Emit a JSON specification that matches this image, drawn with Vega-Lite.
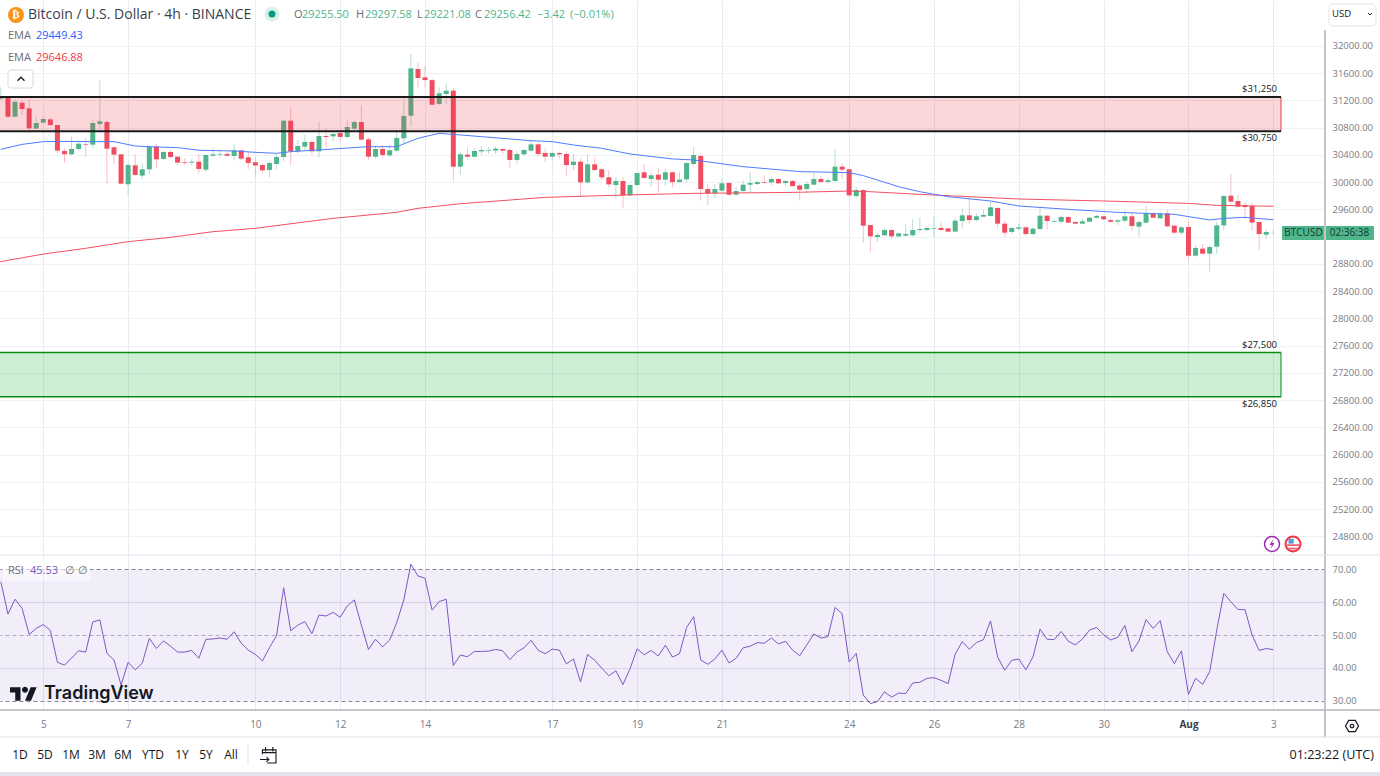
{"$schema":"https://vega.github.io/schema/vega-lite/v6.json","width":1325,"height":710,"padding":{"left":0,"top":0,"right":55,"bottom":66},"autosize":{"type":"none"},"background":"white","config":{"view":{"stroke":null},"font":"Open Sans","text":{"font":"Open Sans"}},
"datasets":{"candles":[
{"t":"2023-07-04T00:00Z","o":31227,"h":31393,"l":31207,"c":31266,"r":66.2},{"t":"2023-07-04T04:00Z","o":31256,"h":31256,"l":30938,"c":30962,"r":56.4},{"t":"2023-07-04T08:00Z","o":30962,"h":31207,"l":30953,"c":31183,"r":60.9},{"t":"2023-07-04T12:00Z","o":31168,"h":31207,"l":30987,"c":31075,"r":58.1},{"t":"2023-07-04T16:00Z","o":31085,"h":31217,"l":30718,"c":30791,"r":50.2},{"t":"2023-07-04T20:00Z","o":30786,"h":30962,"l":30777,"c":30870,"r":52},
{"t":"2023-07-05T00:00Z","o":30875,"h":30962,"l":30855,"c":30928,"r":53.2},{"t":"2023-07-05T04:00Z","o":30923,"h":30953,"l":30826,"c":30840,"r":51.4},{"t":"2023-07-05T08:00Z","o":30840,"h":30840,"l":30425,"c":30464,"r":41.7},{"t":"2023-07-05T12:00Z","o":30459,"h":30498,"l":30288,"c":30410,"r":40.8},{"t":"2023-07-05T16:00Z","o":30410,"h":30669,"l":30400,"c":30488,"r":43},{"t":"2023-07-05T20:00Z","o":30488,"h":30610,"l":30464,"c":30566,"r":45.2},
{"t":"2023-07-06T00:00Z","o":30561,"h":30645,"l":30375,"c":30552,"r":44.8},{"t":"2023-07-06T04:00Z","o":30552,"h":30914,"l":30498,"c":30870,"r":54},{"t":"2023-07-06T08:00Z","o":30855,"h":31500,"l":30777,"c":30894,"r":54.6},{"t":"2023-07-06T12:00Z","o":30884,"h":30923,"l":29984,"c":30493,"r":44.4},{"t":"2023-07-06T16:00Z","o":30513,"h":30522,"l":30268,"c":30405,"r":42.4},{"t":"2023-07-06T20:00Z","o":30410,"h":30415,"l":29969,"c":29979,"r":34.8},
{"t":"2023-07-07T00:00Z","o":29969,"h":30278,"l":29812,"c":30253,"r":41.7},{"t":"2023-07-07T04:00Z","o":30248,"h":30410,"l":30097,"c":30107,"r":39.4},{"t":"2023-07-07T08:00Z","o":30097,"h":30278,"l":30048,"c":30190,"r":41.4},{"t":"2023-07-07T12:00Z","o":30190,"h":30547,"l":30107,"c":30522,"r":49},{"t":"2023-07-07T16:00Z","o":30522,"h":30561,"l":30205,"c":30337,"r":45.9},{"t":"2023-07-07T20:00Z","o":30342,"h":30464,"l":30327,"c":30444,"r":48.2},
{"t":"2023-07-08T00:00Z","o":30444,"h":30474,"l":30351,"c":30371,"r":46.6},{"t":"2023-07-08T04:00Z","o":30375,"h":30385,"l":30253,"c":30288,"r":44.8},{"t":"2023-07-08T08:00Z","o":30293,"h":30351,"l":30253,"c":30283,"r":44.8},{"t":"2023-07-08T12:00Z","o":30288,"h":30337,"l":30253,"c":30302,"r":45.3},{"t":"2023-07-08T16:00Z","o":30302,"h":30415,"l":30131,"c":30195,"r":42.9},{"t":"2023-07-08T20:00Z","o":30185,"h":30410,"l":30151,"c":30400,"r":48.7},
{"t":"2023-07-09T00:00Z","o":30390,"h":30498,"l":30375,"c":30410,"r":48.8},{"t":"2023-07-09T04:00Z","o":30405,"h":30464,"l":30366,"c":30415,"r":49.1},{"t":"2023-07-09T08:00Z","o":30415,"h":30449,"l":30375,"c":30390,"r":48.7},{"t":"2023-07-09T12:00Z","o":30385,"h":30561,"l":30317,"c":30469,"r":51},{"t":"2023-07-09T16:00Z","o":30469,"h":30474,"l":30327,"c":30346,"r":47.5},{"t":"2023-07-09T20:00Z","o":30366,"h":30449,"l":30195,"c":30283,"r":45.4},
{"t":"2023-07-10T00:00Z","o":30293,"h":30366,"l":30072,"c":30244,"r":44.1},{"t":"2023-07-10T04:00Z","o":30253,"h":30278,"l":30131,"c":30175,"r":42.1},{"t":"2023-07-10T08:00Z","o":30180,"h":30302,"l":30072,"c":30283,"r":46.2},{"t":"2023-07-10T12:00Z","o":30268,"h":30425,"l":30195,"c":30371,"r":49.8},{"t":"2023-07-10T16:00Z","o":30371,"h":30914,"l":30302,"c":30904,"r":64.4},{"t":"2023-07-10T20:00Z","o":30904,"h":31099,"l":30253,"c":30454,"r":51.3},
{"t":"2023-07-11T00:00Z","o":30454,"h":30620,"l":30415,"c":30532,"r":53},{"t":"2023-07-11T04:00Z","o":30522,"h":30694,"l":30474,"c":30591,"r":54.1},{"t":"2023-07-11T08:00Z","o":30591,"h":30620,"l":30400,"c":30454,"r":50.4},{"t":"2023-07-11T12:00Z","o":30454,"h":30884,"l":30361,"c":30679,"r":56.1},{"t":"2023-07-11T16:00Z","o":30679,"h":30791,"l":30498,"c":30664,"r":55.8},{"t":"2023-07-11T20:00Z","o":30674,"h":30757,"l":30596,"c":30708,"r":56.9},
{"t":"2023-07-12T00:00Z","o":30723,"h":30777,"l":30596,"c":30664,"r":55.4},{"t":"2023-07-12T04:00Z","o":30664,"h":30904,"l":30645,"c":30811,"r":58.9},{"t":"2023-07-12T08:00Z","o":30786,"h":30904,"l":30767,"c":30884,"r":60.7},{"t":"2023-07-12T12:00Z","o":30884,"h":31134,"l":30620,"c":30625,"r":53},{"t":"2023-07-12T16:00Z","o":30630,"h":30659,"l":30327,"c":30375,"r":45.6},{"t":"2023-07-12T20:00Z","o":30375,"h":30547,"l":30351,"c":30488,"r":48.7},
{"t":"2023-07-13T00:00Z","o":30488,"h":30547,"l":30366,"c":30400,"r":46.4},{"t":"2023-07-13T04:00Z","o":30395,"h":30547,"l":30375,"c":30469,"r":48.5},{"t":"2023-07-13T08:00Z","o":30464,"h":30767,"l":30434,"c":30650,"r":53.8},{"t":"2023-07-13T12:00Z","o":30645,"h":31232,"l":30561,"c":30972,"r":60.7},{"t":"2023-07-13T16:00Z","o":30977,"h":31883,"l":30816,"c":31672,"r":71.6},{"t":"2023-07-13T20:00Z","o":31662,"h":31760,"l":31393,"c":31530,"r":68},
{"t":"2023-07-14T00:00Z","o":31540,"h":31706,"l":31393,"c":31500,"r":67.3},{"t":"2023-07-14T04:00Z","o":31500,"h":31525,"l":31134,"c":31138,"r":57.6},{"t":"2023-07-14T08:00Z","o":31148,"h":31393,"l":31138,"c":31305,"r":60.2},{"t":"2023-07-14T12:00Z","o":31295,"h":31451,"l":31148,"c":31344,"r":60.9},{"t":"2023-07-14T16:00Z","o":31344,"h":31378,"l":30023,"c":30229,"r":40.7},{"t":"2023-07-14T20:00Z","o":30229,"h":30449,"l":30107,"c":30410,"r":43.9},
{"t":"2023-07-15T00:00Z","o":30405,"h":30508,"l":30342,"c":30375,"r":43.4},{"t":"2023-07-15T04:00Z","o":30375,"h":30498,"l":30366,"c":30459,"r":45},{"t":"2023-07-15T08:00Z","o":30454,"h":30522,"l":30405,"c":30474,"r":45},{"t":"2023-07-15T12:00Z","o":30464,"h":30522,"l":30415,"c":30474,"r":45.1},{"t":"2023-07-15T16:00Z","o":30464,"h":30522,"l":30415,"c":30493,"r":45.6},{"t":"2023-07-15T20:00Z","o":30488,"h":30498,"l":30415,"c":30464,"r":45.2},
{"t":"2023-07-16T00:00Z","o":30474,"h":30498,"l":30219,"c":30327,"r":42.5},{"t":"2023-07-16T04:00Z","o":30327,"h":30459,"l":30278,"c":30415,"r":44.8},{"t":"2023-07-16T08:00Z","o":30410,"h":30488,"l":30395,"c":30474,"r":46.1},{"t":"2023-07-16T12:00Z","o":30464,"h":30610,"l":30449,"c":30556,"r":48.4},{"t":"2023-07-16T16:00Z","o":30556,"h":30586,"l":30375,"c":30415,"r":45.4},{"t":"2023-07-16T20:00Z","o":30429,"h":30498,"l":30293,"c":30375,"r":44.3},
{"t":"2023-07-17T00:00Z","o":30375,"h":30449,"l":30317,"c":30429,"r":45.7},{"t":"2023-07-17T04:00Z","o":30429,"h":30449,"l":30351,"c":30410,"r":45.4},{"t":"2023-07-17T08:00Z","o":30415,"h":30459,"l":30092,"c":30253,"r":41.2},{"t":"2023-07-17T12:00Z","o":30253,"h":30415,"l":30170,"c":30302,"r":42.7},{"t":"2023-07-17T16:00Z","o":30302,"h":30351,"l":29788,"c":29998,"r":35.7},{"t":"2023-07-17T20:00Z","o":29998,"h":30410,"l":29984,"c":30263,"r":44.1},
{"t":"2023-07-18T00:00Z","o":30263,"h":30366,"l":30170,"c":30180,"r":42.3},{"t":"2023-07-18T04:00Z","o":30190,"h":30219,"l":30033,"c":30072,"r":39.9},{"t":"2023-07-18T08:00Z","o":30072,"h":30180,"l":29925,"c":29969,"r":37.6},{"t":"2023-07-18T12:00Z","o":29959,"h":30072,"l":29763,"c":30018,"r":39.1},{"t":"2023-07-18T16:00Z","o":30018,"h":30072,"l":29621,"c":29807,"r":34.9},{"t":"2023-07-18T20:00Z","o":29807,"h":29969,"l":29798,"c":29959,"r":39.7},
{"t":"2023-07-19T00:00Z","o":29959,"h":30146,"l":29944,"c":30136,"r":45.8},{"t":"2023-07-19T04:00Z","o":30146,"h":30268,"l":30053,"c":30063,"r":44},{"t":"2023-07-19T08:00Z","o":30048,"h":30146,"l":29935,"c":30102,"r":45.3},{"t":"2023-07-19T12:00Z","o":30112,"h":30219,"l":29846,"c":30038,"r":43.6},{"t":"2023-07-19T16:00Z","o":30038,"h":30195,"l":29959,"c":30146,"r":46.9},{"t":"2023-07-19T20:00Z","o":30146,"h":30156,"l":29925,"c":30003,"r":43.3},
{"t":"2023-07-20T00:00Z","o":30003,"h":30146,"l":29993,"c":30038,"r":44.3},{"t":"2023-07-20T04:00Z","o":30043,"h":30288,"l":30003,"c":30283,"r":52.3},{"t":"2023-07-20T08:00Z","o":30268,"h":30522,"l":30239,"c":30400,"r":55.6},{"t":"2023-07-20T12:00Z","o":30385,"h":30425,"l":29729,"c":29900,"r":42.4},{"t":"2023-07-20T16:00Z","o":29900,"h":29969,"l":29666,"c":29837,"r":41.1},{"t":"2023-07-20T20:00Z","o":29837,"h":29969,"l":29763,"c":29900,"r":42.7},
{"t":"2023-07-21T00:00Z","o":29876,"h":30043,"l":29861,"c":29984,"r":45.4},{"t":"2023-07-21T04:00Z","o":29989,"h":29998,"l":29807,"c":29817,"r":41.5},{"t":"2023-07-21T08:00Z","o":29817,"h":29925,"l":29807,"c":29871,"r":42.9},{"t":"2023-07-21T12:00Z","o":29871,"h":30023,"l":29861,"c":29964,"r":46.1},{"t":"2023-07-21T16:00Z","o":29964,"h":30151,"l":29851,"c":29989,"r":46.6},{"t":"2023-07-21T20:00Z","o":29974,"h":30023,"l":29959,"c":30003,"r":47.7},
{"t":"2023-07-22T00:00Z","o":30003,"h":30097,"l":29984,"c":29993,"r":47.5},{"t":"2023-07-22T04:00Z","o":29998,"h":30082,"l":29959,"c":30048,"r":49.1},{"t":"2023-07-22T08:00Z","o":30048,"h":30058,"l":29974,"c":29984,"r":47.3},{"t":"2023-07-22T12:00Z","o":29989,"h":30033,"l":29944,"c":30018,"r":48.1},{"t":"2023-07-22T16:00Z","o":30018,"h":30033,"l":29935,"c":29944,"r":45.4},{"t":"2023-07-22T20:00Z","o":29954,"h":29969,"l":29739,"c":29890,"r":43.7},
{"t":"2023-07-23T00:00Z","o":29900,"h":30018,"l":29846,"c":29974,"r":47},{"t":"2023-07-23T04:00Z","o":29964,"h":30131,"l":29954,"c":30048,"r":50.3},{"t":"2023-07-23T08:00Z","o":30048,"h":30097,"l":29993,"c":30003,"r":49.1},{"t":"2023-07-23T12:00Z","o":30003,"h":30058,"l":29984,"c":30028,"r":49.5},{"t":"2023-07-23T16:00Z","o":30018,"h":30484,"l":30008,"c":30229,"r":58.4},{"t":"2023-07-23T20:00Z","o":30229,"h":30278,"l":30048,"c":30185,"r":56.5},
{"t":"2023-07-24T00:00Z","o":30190,"h":30200,"l":29788,"c":29807,"r":41.8},{"t":"2023-07-24T04:00Z","o":29798,"h":29925,"l":29763,"c":29885,"r":44.4},{"t":"2023-07-24T08:00Z","o":29885,"h":29900,"l":29113,"c":29362,"r":31.7},{"t":"2023-07-24T12:00Z","o":29372,"h":29372,"l":28981,"c":29206,"r":29.1},{"t":"2023-07-24T16:00Z","o":29196,"h":29260,"l":29128,"c":29226,"r":29.7},{"t":"2023-07-24T20:00Z","o":29221,"h":29333,"l":29211,"c":29299,"r":32.7},
{"t":"2023-07-25T00:00Z","o":29299,"h":29309,"l":29167,"c":29206,"r":31.1},{"t":"2023-07-25T04:00Z","o":29206,"h":29260,"l":29181,"c":29250,"r":32.3},{"t":"2023-07-25T08:00Z","o":29216,"h":29387,"l":29201,"c":29240,"r":32.2},{"t":"2023-07-25T12:00Z","o":29221,"h":29461,"l":29201,"c":29299,"r":35.4},{"t":"2023-07-25T16:00Z","o":29299,"h":29480,"l":29250,"c":29314,"r":35.6},{"t":"2023-07-25T20:00Z","o":29299,"h":29358,"l":29289,"c":29329,"r":36.8},
{"t":"2023-07-26T00:00Z","o":29319,"h":29505,"l":29201,"c":29329,"r":37},{"t":"2023-07-26T04:00Z","o":29329,"h":29407,"l":29289,"c":29299,"r":36.2},{"t":"2023-07-26T08:00Z","o":29324,"h":29324,"l":29265,"c":29275,"r":35.2},{"t":"2023-07-26T12:00Z","o":29275,"h":29471,"l":29265,"c":29436,"r":44.2},{"t":"2023-07-26T16:00Z","o":29431,"h":29617,"l":29324,"c":29514,"r":48},{"t":"2023-07-26T20:00Z","o":29514,"h":29788,"l":29387,"c":29446,"r":45.7},
{"t":"2023-07-27T00:00Z","o":29446,"h":29544,"l":29421,"c":29500,"r":47.7},{"t":"2023-07-27T04:00Z","o":29495,"h":29593,"l":29485,"c":29519,"r":48.6},{"t":"2023-07-27T08:00Z","o":29505,"h":29715,"l":29495,"c":29632,"r":54.3},{"t":"2023-07-27T12:00Z","o":29622,"h":29632,"l":29324,"c":29392,"r":43.3},{"t":"2023-07-27T16:00Z","o":29392,"h":29436,"l":29201,"c":29260,"r":39.3},{"t":"2023-07-27T20:00Z","o":29270,"h":29348,"l":29240,"c":29329,"r":42.3},
{"t":"2023-07-28T00:00Z","o":29319,"h":29397,"l":29289,"c":29338,"r":42.7},{"t":"2023-07-28T04:00Z","o":29338,"h":29358,"l":29211,"c":29240,"r":39.4},{"t":"2023-07-28T08:00Z","o":29240,"h":29348,"l":29226,"c":29319,"r":43.3},{"t":"2023-07-28T12:00Z","o":29314,"h":29641,"l":29299,"c":29509,"r":51.8},{"t":"2023-07-28T16:00Z","o":29509,"h":29519,"l":29309,"c":29431,"r":48.7},{"t":"2023-07-28T20:00Z","o":29421,"h":29470,"l":29407,"c":29431,"r":48.6},
{"t":"2023-07-29T00:00Z","o":29421,"h":29514,"l":29407,"c":29490,"r":51.1},{"t":"2023-07-29T04:00Z","o":29490,"h":29505,"l":29397,"c":29407,"r":48.1},{"t":"2023-07-29T08:00Z","o":29416,"h":29436,"l":29382,"c":29392,"r":47},{"t":"2023-07-29T12:00Z","o":29392,"h":29465,"l":29382,"c":29426,"r":48.8},{"t":"2023-07-29T16:00Z","o":29421,"h":29490,"l":29411,"c":29480,"r":51.5},{"t":"2023-07-29T20:00Z","o":29480,"h":29519,"l":29470,"c":29505,"r":52.3},
{"t":"2023-07-30T00:00Z","o":29500,"h":29509,"l":29446,"c":29456,"r":50},{"t":"2023-07-30T04:00Z","o":29446,"h":29470,"l":29411,"c":29421,"r":48.5},{"t":"2023-07-30T08:00Z","o":29421,"h":29460,"l":29372,"c":29441,"r":49.3},{"t":"2023-07-30T12:00Z","o":29436,"h":29593,"l":29411,"c":29500,"r":52.9},{"t":"2023-07-30T16:00Z","o":29500,"h":29544,"l":29284,"c":29358,"r":44.9},{"t":"2023-07-30T20:00Z","o":29348,"h":29446,"l":29201,"c":29416,"r":48.2},
{"t":"2023-07-31T00:00Z","o":29407,"h":29651,"l":29397,"c":29544,"r":54.7},{"t":"2023-07-31T04:00Z","o":29544,"h":29558,"l":29470,"c":29480,"r":52},{"t":"2023-07-31T08:00Z","o":29470,"h":29568,"l":29460,"c":29534,"r":54.4},{"t":"2023-07-31T12:00Z","o":29544,"h":29602,"l":29338,"c":29353,"r":44.9},{"t":"2023-07-31T16:00Z","o":29363,"h":29382,"l":29240,"c":29260,"r":41.3},{"t":"2023-07-31T20:00Z","o":29260,"h":29358,"l":29226,"c":29338,"r":45.2},
{"t":"2023-08-01T00:00Z","o":29343,"h":29436,"l":28849,"c":28922,"r":31.9},{"t":"2023-08-01T04:00Z","o":28922,"h":29074,"l":28907,"c":29035,"r":36.8},{"t":"2023-08-01T08:00Z","o":29025,"h":29093,"l":28942,"c":28951,"r":35},{"t":"2023-08-01T12:00Z","o":28951,"h":29079,"l":28687,"c":29050,"r":38.8},{"t":"2023-08-01T16:00Z","o":29054,"h":29421,"l":28946,"c":29367,"r":51.5},{"t":"2023-08-01T20:00Z","o":29367,"h":29813,"l":29289,"c":29798,"r":62.7},
{"t":"2023-08-02T00:00Z","o":29803,"h":30121,"l":29705,"c":29715,"r":60.1},{"t":"2023-08-02T04:00Z","o":29725,"h":29813,"l":29632,"c":29641,"r":57.8},{"t":"2023-08-02T08:00Z","o":29666,"h":29705,"l":29460,"c":29636,"r":57.7},{"t":"2023-08-02T12:00Z","o":29651,"h":29700,"l":29284,"c":29407,"r":50},{"t":"2023-08-02T16:00Z","o":29416,"h":29436,"l":29005,"c":29240,"r":45.3},{"t":"2023-08-02T20:00Z","o":29230,"h":29309,"l":29162,"c":29270,"r":45.9},
{"t":"2023-08-03T00:00Z","o":29255.5,"h":29297.58,"l":29221.08,"c":29256.42,"r":45.53}
],
"fast":[{"t":"2023-07-04T00:00Z","v":30483},{"t":"2023-07-04T12:00Z","v":30556},{"t":"2023-07-05T00:00Z","v":30596},{"t":"2023-07-05T08:00Z","v":30600},{"t":"2023-07-06T08:00Z","v":30596},{"t":"2023-07-06T16:00Z","v":30596},{"t":"2023-07-07T04:00Z","v":30532},{"t":"2023-07-07T12:00Z","v":30522},{"t":"2023-07-08T04:00Z","v":30508},{"t":"2023-07-08T16:00Z","v":30469},{"t":"2023-07-09T12:00Z","v":30459},{"t":"2023-07-10T00:00Z","v":30439},{"t":"2023-07-10T12:00Z","v":30425},{"t":"2023-07-10T20:00Z","v":30449},{"t":"2023-07-11T20:00Z","v":30488},{"t":"2023-07-12T16:00Z","v":30522},{"t":"2023-07-13T08:00Z","v":30522},{"t":"2023-07-13T20:00Z","v":30645},{"t":"2023-07-14T08:00Z","v":30718},{"t":"2023-07-14T20:00Z","v":30694},{"t":"2023-07-15T08:00Z","v":30669},{"t":"2023-07-16T12:00Z","v":30610},{"t":"2023-07-17T00:00Z","v":30596},{"t":"2023-07-17T12:00Z","v":30547},{"t":"2023-07-18T04:00Z","v":30498},{"t":"2023-07-18T20:00Z","v":30415},{"t":"2023-07-19T20:00Z","v":30342},{"t":"2023-07-20T08:00Z","v":30327},{"t":"2023-07-21T12:00Z","v":30229},{"t":"2023-07-22T20:00Z","v":30156},{"t":"2023-07-24T00:00Z","v":30141},{"t":"2023-07-24T08:00Z","v":30097},{"t":"2023-07-25T04:00Z","v":29935},{"t":"2023-07-25T16:00Z","v":29861},{"t":"2023-07-26T08:00Z","v":29788},{"t":"2023-07-27T08:00Z","v":29725},{"t":"2023-07-28T00:00Z","v":29651},{"t":"2023-07-29T04:00Z","v":29602},{"t":"2023-07-30T08:00Z","v":29558},{"t":"2023-07-31T16:00Z","v":29529},{"t":"2023-08-01T12:00Z","v":29446},{"t":"2023-08-01T20:00Z","v":29470},{"t":"2023-08-02T08:00Z","v":29485},{"t":"2023-08-03T00:00Z","v":29449.43}],
"slow":[{"t":"2023-07-03T23:30Z","v":28830},{"t":"2023-07-04T00:00Z","v":28835},{"t":"2023-07-05T00:00Z","v":28946},{"t":"2023-07-06T00:00Z","v":29030},{"t":"2023-07-07T00:00Z","v":29128},{"t":"2023-07-08T00:00Z","v":29191},{"t":"2023-07-09T00:00Z","v":29274},{"t":"2023-07-10T00:00Z","v":29324},{"t":"2023-07-11T20:00Z","v":29470},{"t":"2023-07-13T08:00Z","v":29558},{"t":"2023-07-13T20:00Z","v":29617},{"t":"2023-07-14T20:00Z","v":29685},{"t":"2023-07-16T20:00Z","v":29778},{"t":"2023-07-18T16:00Z","v":29812},{"t":"2023-07-20T08:00Z","v":29837},{"t":"2023-07-22T16:00Z","v":29851},{"t":"2023-07-24T00:00Z","v":29871},{"t":"2023-07-24T12:00Z","v":29861},{"t":"2023-07-25T16:00Z","v":29822},{"t":"2023-07-26T20:00Z","v":29788},{"t":"2023-07-28T00:00Z","v":29754},{"t":"2023-07-30T00:00Z","v":29725},{"t":"2023-08-01T00:00Z","v":29690},{"t":"2023-08-01T16:00Z","v":29661},{"t":"2023-08-03T00:00Z","v":29646.88}]},
"encoding":{"x":{"field":"t","type":"temporal","scale":{"type":"utc","padding":0,"domain":["2023-07-03T23:30:00Z","2023-08-04T05:15:00Z"]},"axis":{"title":null,"values":["2023-07-05T00:00:00Z","2023-07-07T00:00:00Z","2023-07-10T00:00:00Z","2023-07-12T00:00:00Z","2023-07-14T00:00:00Z","2023-07-17T00:00:00Z","2023-07-19T00:00:00Z","2023-07-21T00:00:00Z","2023-07-24T00:00:00Z","2023-07-26T00:00:00Z","2023-07-28T00:00:00Z","2023-07-30T00:00:00Z","2023-08-01T00:00:00Z","2023-08-03T00:00:00Z"],"labelExpr":"utcdate(datum.value)==1?'Aug':''+utcdate(datum.value)","grid":true,"gridColor":"#e6edf2","domain":false,"ticks":false,"labelPadding":9,"labelFontSize":10,"labelColor":{"condition":{"test":"utcdate(datum.value)==1","value":"#3a3e4a"},"value":"#787b86"},"labelFontWeight":{"condition":{"test":"utcdate(datum.value)==1","value":"bold"},"value":"normal"},"labelOverlap":false,"labelFont":"Open Sans"}}},
"layer":[
{"layer":[
{"data":{"name":"candles"},"mark":{"type":"rule","strokeWidth":1},"encoding":{"y":{"field":"l","type":"quantitative","scale":{"domain":[22253,32675.2],"nice":false,"zero":false},"axis":{"orient":"right","title":null,"tickCount":40,"values":[32000,31600,31200,30800,30400,30000,29600,29200,28800,28400,28000,27600,27200,26800,26400,26000,25600,25200,24800],"labelExpr":"datum.value==29200?'':format(datum.value,'.2f')","grid":true,"gridColor":"#eef1f6","domain":false,"ticks":false,"labelPadding":7,"labelFontSize":9.5,"labelColor":"#787b86","labelFont":"Open Sans","labelOverlap":false}},"y2":{"field":"h"},"color":{"condition":{"test":"datum.c>=datum.o","value":"#b7dcd3"},"value":"#f9bcc4"}}},
{"data":{"name":"candles"},"mark":{"type":"bar","size":5},"encoding":{"y":{"field":"o","type":"quantitative"},"y2":{"field":"c"},"color":{"condition":{"test":"datum.c>=datum.o","value":"#4fb58a"},"value":"#ee4e60"}}},
{"data":{"name":"slow"},"mark":{"type":"line","color":"#f2505f","strokeWidth":1},"encoding":{"y":{"field":"v","type":"quantitative"}}},
{"data":{"name":"fast"},"mark":{"type":"line","color":"#4f7cff","strokeWidth":1},"encoding":{"y":{"field":"v","type":"quantitative"}}},
{"data":{"values":[{"t":"2023-07-03T23:30Z","t2":"2023-08-03T04:21Z","a":31250,"b":30750}]},"mark":{"type":"rect","color":"#f23645","opacity":0.2},"encoding":{"x2":{"field":"t2"},"y":{"field":"a","type":"quantitative"},"y2":{"field":"b"}}},
{"data":{"values":[{"t":"2023-07-03T23:30Z","t2":"2023-08-03T04:21Z","a":27500,"b":26850}]},"mark":{"type":"rect","color":"#1fb83a","opacity":0.22},"encoding":{"x2":{"field":"t2"},"y":{"field":"a","type":"quantitative"},"y2":{"field":"b"}}},
{"data":{"values":[{"t":"2023-08-03T04:21Z","a":31250,"b":30750}]},"mark":{"type":"rule","color":"#f23645","strokeWidth":1},"encoding":{"y":{"field":"a","type":"quantitative"},"y2":{"field":"b"}}},
{"data":{"values":[{"t":"2023-07-03T23:30Z","t2":"2023-08-03T04:21Z","p":31250},{"t":"2023-07-03T23:30Z","t2":"2023-08-03T04:21Z","p":30750}]},"mark":{"type":"rule","color":"#1a1a1a","strokeWidth":2},"encoding":{"x2":{"field":"t2"},"y":{"field":"p","type":"quantitative"}}},
{"data":{"values":[{"t":"2023-08-03T04:21Z","a":27500,"b":26850}]},"mark":{"type":"rule","color":"#0a8a16","strokeWidth":1},"encoding":{"y":{"field":"a","type":"quantitative"},"y2":{"field":"b"}}},
{"data":{"values":[{"t":"2023-07-03T23:30Z","t2":"2023-08-03T04:21Z","p":27500},{"t":"2023-07-03T23:30Z","t2":"2023-08-03T04:21Z","p":26850}]},"mark":{"type":"rule","color":"#0a8a16","strokeWidth":1.5},"encoding":{"x2":{"field":"t2"},"y":{"field":"p","type":"quantitative"}}},
{"data":{"values":[{"t":"2023-08-03T02:06Z","p":31369,"s":"$31,250"},{"t":"2023-08-03T02:06Z","p":30649,"s":"$30,750"},{"t":"2023-08-03T02:06Z","p":27611,"s":"$27,500"},{"t":"2023-08-03T02:06Z","p":26745,"s":"$26,850"}]},"mark":{"type":"text","align":"right","baseline":"middle","fontSize":9.5,"color":"#131722"},"encoding":{"y":{"field":"p","type":"quantitative"},"text":{"field":"s"}}},
{"data":{"values":[{"t":"2023-08-03T04:55Z","t2":"2023-08-04T05:15Z","a":29358,"b":29152},{"t":"2023-08-04T05:35Z","t2":"2023-08-05T08:59Z","a":29358,"b":29152}]},"mark":{"type":"rect","color":"#4fb58a","cornerRadius":1},"encoding":{"x2":{"field":"t2"},"y":{"field":"a","type":"quantitative"},"y2":{"field":"b"}}},
{"data":{"values":[{"t":"2023-08-03T17:05Z","p":29255,"s":"BTCUSD"},{"t":"2023-08-04T19:07Z","p":29255,"s":"02:36:38"}]},"mark":{"type":"text","align":"center","baseline":"middle","fontSize":10,"color":"#0f3d2c"},"encoding":{"y":{"field":"p","type":"quantitative"},"text":{"field":"s"}}},
{"data":{"values":[{"t":"2023-08-04T05:15Z","a":32235,"b":21857}]},"mark":{"type":"rule","color":"#c4c6cc","strokeWidth":2},"encoding":{"y":{"field":"a","type":"quantitative"},"y2":{"field":"b"}}},
{"data":{"values":[{"t":"2023-07-03T23:30Z","t2":"2023-08-05T12:22Z","p":24528},{"t":"2023-07-03T23:30Z","t2":"2023-08-05T12:22Z","p":21857}]},"mark":{"type":"rule","color":"#e0e3eb","strokeWidth":1},"encoding":{"x2":{"field":"t2"},"y":{"field":"p","type":"quantitative"}}},
{"data":{"values":[{"t":"2023-07-03T23:30Z","t2":"2023-08-05T12:22Z","p":22253}]},"mark":{"type":"rule","color":"#b2b5be","strokeWidth":1.5},"encoding":{"x2":{"field":"t2"},"y":{"field":"p","type":"quantitative"}}},
{"data":{"values":[{"t":"2023-07-03T23:30Z","t2":"2023-08-05T12:22Z","a":21343,"b":21284}]},"mark":{"type":"rect","color":"#e0e3eb"},"encoding":{"x2":{"field":"t2"},"y":{"field":"a","type":"quantitative"},"y2":{"field":"b"}}},
{"data":{"values":[{"t":"2023-07-04T08:33Z","p":32455}]},"mark":{"type":"point","shape":"circle","filled":true,"size":256,"color":"#f7931a","opacity":1},"encoding":{"y":{"field":"p","type":"quantitative"}}},
{"data":{"values":[{"t":"2023-07-04T08:33Z","p":32455,"s":"₿"}]},"mark":{"type":"text","align":"center","baseline":"middle","fontSize":11,"fontWeight":"bold","font":"DejaVu Sans","color":"white"},"encoding":{"y":{"field":"p","type":"quantitative"},"text":{"field":"s"}}},
{"data":{"values":[{"t":"2023-07-04T15:21Z","p":32455,"s":"Bitcoin / U.S. Dollar · 4h · BINANCE"}]},"mark":{"type":"text","align":"left","baseline":"middle","fontSize":14,"color":"#3a3e4a"},"encoding":{"y":{"field":"p","type":"quantitative"},"text":{"field":"s"}}},
{"data":{"values":[{"t":"2023-07-10T09:24Z","p":32470}]},"mark":{"type":"point","shape":"circle","filled":true,"size":225,"color":"#daf0ec","opacity":1},"encoding":{"y":{"field":"p","type":"quantitative"}}},
{"data":{"values":[{"t":"2023-07-10T09:24Z","p":32470}]},"mark":{"type":"point","shape":"circle","filled":true,"size":49,"color":"#089981","opacity":1},"encoding":{"y":{"field":"p","type":"quantitative"}}},
{"data":{"values":[{"t":"2023-07-10T21:51Z","p":32450,"s":"O"},{"t":"2023-07-12T08:56Z","p":32450,"s":"H"},{"t":"2023-07-13T19:27Z","p":32450,"s":"L"},{"t":"2023-07-15T04:16Z","p":32450,"s":"C"},{"t":"2023-07-04T04:02Z","p":32147,"s":"EMA"},{"t":"2023-07-04T04:02Z","p":31824,"s":"EMA"}]},"mark":{"type":"text","align":"left","baseline":"middle","fontSize":11,"color":"#6a6d78"},"encoding":{"y":{"field":"p","type":"quantitative"},"text":{"field":"s"}}},
{"data":{"values":[{"t":"2023-07-11T02:23Z","p":32450,"s":"29255.50"},{"t":"2023-07-12T14:02Z","p":32450,"s":"29297.58"},{"t":"2023-07-13T23:25Z","p":32450,"s":"29221.08"},{"t":"2023-07-15T09:22Z","p":32450,"s":"29256.42"},{"t":"2023-07-16T15:21Z","p":32450,"s":"−3.42"},{"t":"2023-07-17T10:02Z","p":32450,"s":"(−0.01%)"}]},"mark":{"type":"text","align":"left","baseline":"middle","fontSize":11,"color":"#4fb58a"},"encoding":{"y":{"field":"p","type":"quantitative"},"text":{"field":"s"}}},
{"data":{"values":[{"t":"2023-07-04T19:52Z","p":32147,"s":"29449.43"}]},"mark":{"type":"text","align":"left","baseline":"middle","fontSize":11,"color":"#2962ff"},"encoding":{"y":{"field":"p","type":"quantitative"},"text":{"field":"s"}}},
{"data":{"values":[{"t":"2023-07-04T19:52Z","p":31824,"s":"29646.88"}]},"mark":{"type":"text","align":"left","baseline":"middle","fontSize":11,"color":"#f23645"},"encoding":{"y":{"field":"p","type":"quantitative"},"text":{"field":"s"}}},
{"data":{"values":[{"t":"2023-07-04T04:02Z","t2":"2023-07-04T18:10Z","a":31648,"b":31383}]},"mark":{"type":"rect","fill":"white","stroke":"#d6d9e0","strokeWidth":1,"cornerRadius":3},"encoding":{"x2":{"field":"t2"},"y":{"field":"a","type":"quantitative"},"y2":{"field":"b"}}},
{"data":{"values":[{"t":"2023-07-04T11:23Z","p":31515}]},"mark":{"type":"point","shape":"M-1 0.5 L0 -0.5 L1 0.5","size":49,"fill":"none","stroke":"#131722","strokeWidth":1.3,"opacity":1},"encoding":{"y":{"field":"p","type":"quantitative"}}},
{"data":{"values":[{"t":"2023-08-04T07:31Z","t2":"2023-08-05T10:07Z","a":32617,"b":32294}]},"mark":{"type":"rect","fill":"white","stroke":"#e0e3eb","strokeWidth":1,"cornerRadius":4},"encoding":{"x2":{"field":"t2"},"y":{"field":"a","type":"quantitative"},"y2":{"field":"b"}}},
{"data":{"values":[{"t":"2023-08-04T09:13Z","p":32470,"s":"USD"}]},"mark":{"type":"text","align":"left","baseline":"middle","fontSize":9.5,"color":"#131722"},"encoding":{"y":{"field":"p","type":"quantitative"},"text":{"field":"s"}}},
{"data":{"values":[{"t":"2023-08-05T06:43Z","p":32470}]},"mark":{"type":"point","shape":"M-1 -0.5 L0 0.5 L1 -0.5","size":16,"fill":"none","stroke":"#131722","strokeWidth":1,"opacity":1},"encoding":{"y":{"field":"p","type":"quantitative"}}},
{"data":{"values":[{"t":"2023-08-02T23:16Z","p":24690}]},"mark":{"type":"point","shape":"circle","size":225,"fill":"white","stroke":"#9c27b0","strokeWidth":1.5,"opacity":1},"encoding":{"y":{"field":"p","type":"quantitative"}}},
{"data":{"values":[{"t":"2023-08-02T23:16Z","p":24690}]},"mark":{"type":"point","shape":"M0.3 -1 L-0.5 0.2 H0 L-0.3 1 L0.5 -0.2 H0 Z","size":100,"filled":true,"color":"#9c27b0","opacity":1},"encoding":{"y":{"field":"p","type":"quantitative"}}},
{"data":{"values":[{"t":"2023-08-03T11:09Z","p":24690}]},"mark":{"type":"point","shape":"circle","size":225,"fill":"white","stroke":"#f23645","strokeWidth":2,"opacity":1},"encoding":{"y":{"field":"p","type":"quantitative"}}},
{"data":{"values":[{"t":"2023-08-03T11:09Z","p":24690}]},"mark":{"type":"point","shape":"M-0.85 0.05 H0.85 V0.3 H-0.85 Z M-0.7 0.55 H0.7 V0.8 H-0.7 Z","size":196,"filled":true,"color":"#f2606d","opacity":1},"encoding":{"y":{"field":"p","type":"quantitative"}}},
{"data":{"values":[{"t":"2023-08-03T11:09Z","p":24690}]},"mark":{"type":"point","shape":"M-0.65 -0.75 H0.1 V-0.05 H-0.65 Z","size":196,"filled":true,"color":"#5b9bd5","opacity":1},"encoding":{"y":{"field":"p","type":"quantitative"}}},
{"data":{"values":[{"t":"2023-08-04T20:32Z","p":22018}]},"mark":{"type":"point","shape":"M-0.5 -0.87 H0.5 L1 0 L0.5 0.87 H-0.5 L-1 0 Z","size":169,"fill":"none","stroke":"#131722","strokeWidth":1.2,"opacity":1},"encoding":{"y":{"field":"p","type":"quantitative"}}},
{"data":{"values":[{"t":"2023-08-04T20:32Z","p":22018}]},"mark":{"type":"point","shape":"circle","size":12,"fill":"none","stroke":"#131722","strokeWidth":1.2,"opacity":1},"encoding":{"y":{"field":"p","type":"quantitative"}}},
{"data":{"values":[{"t":"2023-07-04T10:49Z","p":21592,"s":"1D"},{"t":"2023-07-05T00:58Z","p":21592,"s":"5D"},{"t":"2023-07-05T15:40Z","p":21592,"s":"1M"},{"t":"2023-07-06T06:23Z","p":21592,"s":"3M"},{"t":"2023-07-06T21:06Z","p":21592,"s":"6M"},{"t":"2023-07-07T14:04Z","p":21592,"s":"YTD"},{"t":"2023-07-08T06:29Z","p":21592,"s":"1Y"},{"t":"2023-07-08T20:04Z","p":21592,"s":"5Y"},{"t":"2023-07-09T10:12Z","p":21592,"s":"All"}]},"mark":{"type":"text","align":"center","baseline":"middle","fontSize":12,"color":"#131722"},"encoding":{"y":{"field":"p","type":"quantitative"},"text":{"field":"s"}}},
{"data":{"values":[{"t":"2023-08-05T08:59Z","p":21592,"s":"01:23:22 (UTC)"}]},"mark":{"type":"text","align":"right","baseline":"middle","fontSize":12.6,"color":"#131722"},"encoding":{"y":{"field":"p","type":"quantitative"},"text":{"field":"s"}}},
{"data":{"values":[{"t":"2023-07-09T19:50Z","a":21739,"b":21446}]},"mark":{"type":"rule","color":"#e0e3eb","strokeWidth":1},"encoding":{"y":{"field":"a","type":"quantitative"},"y2":{"field":"b"}}},
{"data":{"values":[{"t":"2023-07-10T07:09Z","p":21592}]},"mark":{"type":"point","shape":"M-0.7 -0.1 V-0.65 H1 V1 H-0.1 M-0.7 -0.3 H1 M-0.3 -1 V-0.45 M0.6 -1 V-0.45 M-1 0.55 H0.1 M-0.2 0.25 L0.1 0.55 L-0.2 0.85","size":256,"fill":"none","stroke":"#131722","strokeWidth":1.1,"opacity":1},"encoding":{"y":{"field":"p","type":"quantitative"}}}
]},
{"layer":[
{"data":{"values":[{"t":"2023-07-03T23:30Z","t2":"2023-08-04T05:15Z","a":70,"b":30}]},"mark":{"type":"rect","color":"#7e57c2","opacity":0.1},"encoding":{"x2":{"field":"t2"},"y":{"field":"a","type":"quantitative","scale":{"domain":[27.16,243.46],"nice":false,"zero":false},"axis":{"orient":"right","title":null,"tickCount":40,"values":[70,60,50,40,30],"format":".2f","grid":true,"gridColor":{"condition":[{"test":"datum.value==60||datum.value==40","value":"#e3dff0"},{"test":"datum.value==50","value":"#b5b2c2"}],"value":"#8a8794"},"gridDash":{"condition":{"test":"datum.value==60||datum.value==40","value":[]},"value":[4,3]},"domain":false,"ticks":false,"labelPadding":7,"labelFontSize":9.5,"labelColor":"#787b86","labelFont":"Open Sans","labelOverlap":false}},"y2":{"field":"b"}}},
{"data":{"name":"candles"},"mark":{"type":"line","color":"#7e57c2","strokeWidth":1},"encoding":{"y":{"field":"r","type":"quantitative"}}},
{"data":{"values":[{"t":"2023-07-04T01:12Z","t2":"2023-07-06T02:26Z","a":72.5,"b":66.5}]},"mark":{"type":"rect","color":"white","opacity":0.55},"encoding":{"x2":{"field":"t2"},"y":{"field":"a","type":"quantitative"},"y2":{"field":"b"}}},
{"data":{"values":[{"t":"2023-07-04T04:02Z","p":69.5,"s":"RSI"},{"t":"2023-07-05T12:17Z","p":69.5,"s":"∅ ∅"}]},"mark":{"type":"text","align":"left","baseline":"middle","fontSize":11,"color":"#6a6d78"},"encoding":{"y":{"field":"p","type":"quantitative"},"text":{"field":"s"}}},
{"data":{"values":[{"t":"2023-07-04T16:29Z","p":69.5,"s":"45.53"}]},"mark":{"type":"text","align":"left","baseline":"middle","fontSize":11,"color":"#7e57c2"},"encoding":{"y":{"field":"p","type":"quantitative"},"text":{"field":"s"}}},
{"data":{"values":[{"t":"2023-07-04T12:48Z","p":32.04}]},"mark":{"type":"point","shape":"M-0.222 0.5 H-0.611 V-0.111 H-1 V-0.5 H-0.222 Z M0.556 0.5 H0.111 L0.528 -0.5 H0.972 Z M-0.111 -0.306 a0.222 0.222 0 1 0 0.444 0 a0.222 0.222 0 1 0 -0.444 0 Z","size":729,"filled":true,"color":"#131722","opacity":1},"encoding":{"y":{"field":"p","type":"quantitative"}}},
{"data":{"values":[{"t":"2023-07-05T00:24Z","p":32.04,"s":"TradingView"}]},"mark":{"type":"text","align":"left","baseline":"middle","fontSize":18,"fontWeight":600,"font":"Inter","color":"#131722"},"encoding":{"y":{"field":"p","type":"quantitative"},"text":{"field":"s"}}}
]}
],
"resolve":{"scale":{"y":"independent"},"axis":{"y":"independent"}}}
